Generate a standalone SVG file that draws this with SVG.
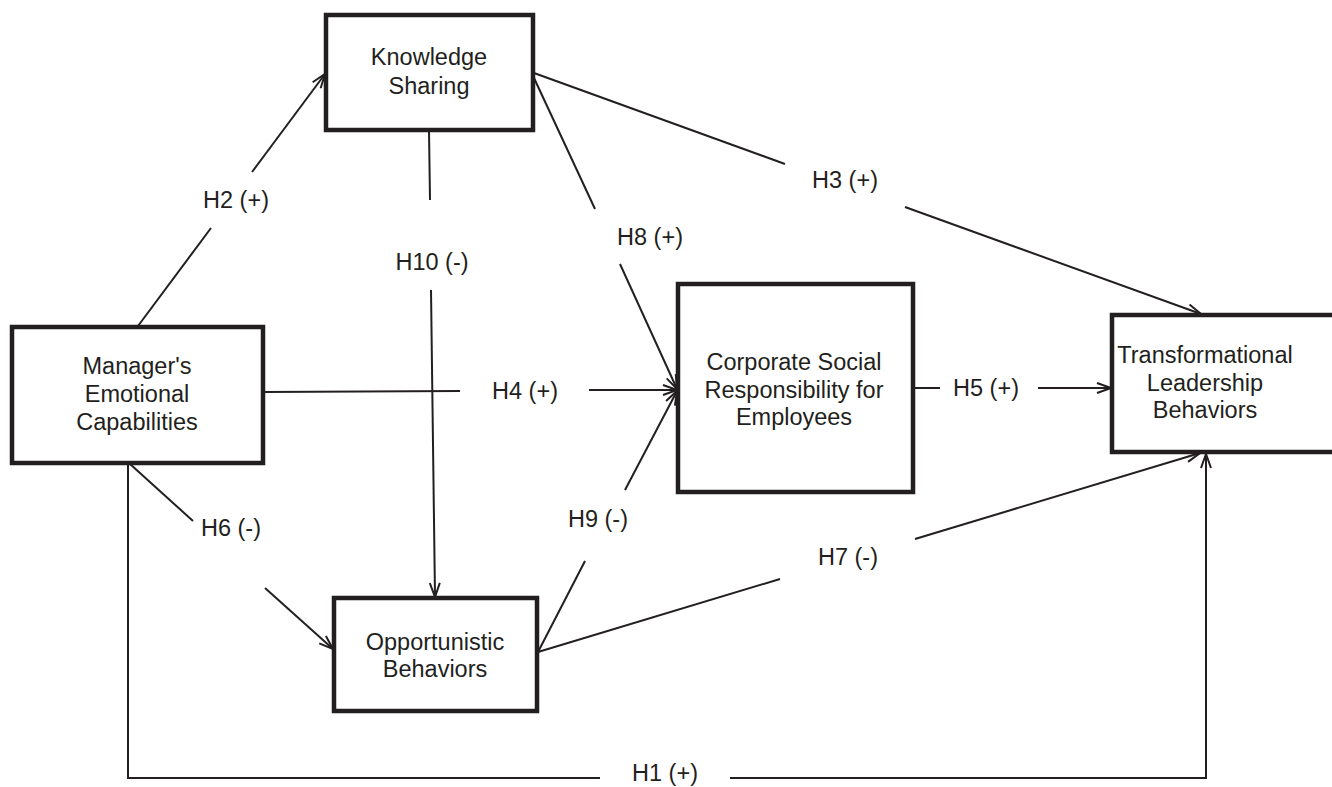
<svg xmlns="http://www.w3.org/2000/svg" width="1332" height="787" viewBox="0 0 1332 787">
<style>
.box{fill:#fff;stroke:#231f20;stroke-width:4.5}
.t{font-family:"Liberation Sans",Arial,sans-serif;font-size:23.5px;fill:#231f20;text-anchor:middle}
.ln{fill:none;stroke:#231f20;stroke-width:2}
</style>
<defs>
<marker id="ah" viewBox="0 0 16 12" refX="15" refY="6" markerWidth="16" markerHeight="12" orient="auto" markerUnits="userSpaceOnUse">
<path d="M1,1 L15,6 L1,11" fill="none" stroke="#231f20" stroke-width="2"/>
</marker>
</defs>
<rect width="1332" height="787" fill="#fff"/>
<g id="connectors">
<!-- H2 -->
<line class="ln" x1="138" y1="326" x2="211" y2="228"/>
<line class="ln" x1="252" y1="172" x2="325" y2="74" marker-end="url(#ah)"/>
<!-- H10 -->
<line class="ln" x1="429" y1="131" x2="430" y2="200"/>
<line class="ln" x1="431" y1="290" x2="435" y2="597" marker-end="url(#ah)"/>
<!-- H8 -->
<line class="ln" x1="534" y1="78" x2="595" y2="209"/>
<line class="ln" x1="620" y1="264" x2="677" y2="389" marker-end="url(#ah)"/>
<!-- H3 -->
<line class="ln" x1="534" y1="73" x2="785" y2="164"/>
<line class="ln" x1="905" y1="207" x2="1201" y2="314" marker-end="url(#ah)"/>
<!-- H4 -->
<line class="ln" x1="264" y1="392" x2="460" y2="391"/>
<line class="ln" x1="589" y1="390" x2="677" y2="390" marker-end="url(#ah)"/>
<!-- H5 -->
<line class="ln" x1="914" y1="388" x2="940" y2="388"/>
<line class="ln" x1="1038" y1="388" x2="1111" y2="388" marker-end="url(#ah)"/>
<!-- H6 -->
<line class="ln" x1="130" y1="464" x2="193" y2="521"/>
<line class="ln" x1="265" y1="588" x2="333" y2="649" marker-end="url(#ah)"/>
<!-- H9 -->
<line class="ln" x1="538" y1="652" x2="585" y2="561"/>
<line class="ln" x1="625" y1="490" x2="677" y2="391" marker-end="url(#ah)"/>
<!-- H7 -->
<line class="ln" x1="538" y1="652" x2="780" y2="579"/>
<line class="ln" x1="915" y1="539" x2="1200" y2="453" marker-end="url(#ah)"/>
<!-- H1 -->
<polyline class="ln" points="128,464 128,778 600,778"/>
<polyline class="ln" points="730,778 1206,778 1206,454" marker-end="url(#ah)"/>
</g>
<g id="labels">
<text class="t" x="236" y="208">H2 (+)</text>
<text class="t" x="432" y="270">H10 (-)</text>
<text class="t" x="650" y="245">H8 (+)</text>
<text class="t" x="845" y="188">H3 (+)</text>
<text class="t" x="525" y="399">H4 (+)</text>
<text class="t" x="986" y="396">H5 (+)</text>
<text class="t" x="231" y="536">H6 (-)</text>
<text class="t" x="598" y="527">H9 (-)</text>
<text class="t" x="848" y="565">H7 (-)</text>
<text class="t" x="665" y="781">H1 (+)</text>
</g>
<g id="knowledge-sharing">
<rect class="box" x="326" y="15" width="207" height="115"/>
<text class="t" x="429" y="65">Knowledge</text>
<text class="t" x="429" y="94">Sharing</text>
</g>
<g id="managers-emotional-capabilities">
<rect class="box" x="12" y="327" width="251" height="136"/>
<text class="t" x="137" y="374">Manager's</text>
<text class="t" x="137" y="402">Emotional</text>
<text class="t" x="137" y="430">Capabilities</text>
</g>
<g id="csr-employees">
<rect class="box" x="678" y="284" width="235" height="208"/>
<text class="t" x="794" y="370">Corporate Social</text>
<text class="t" x="794" y="398">Responsibility for</text>
<text class="t" x="794" y="425">Employees</text>
</g>
<g id="transformational-leadership">
<rect class="box" x="1112" y="315" width="240" height="137"/>
<text class="t" x="1205" y="363">Transformational</text>
<text class="t" x="1205" y="391">Leadership</text>
<text class="t" x="1205" y="418">Behaviors</text>
</g>
<g id="opportunistic-behaviors">
<rect class="box" x="334" y="598" width="203" height="113"/>
<text class="t" x="435" y="650">Opportunistic</text>
<text class="t" x="435" y="677">Behaviors</text>
</g>
</svg>
